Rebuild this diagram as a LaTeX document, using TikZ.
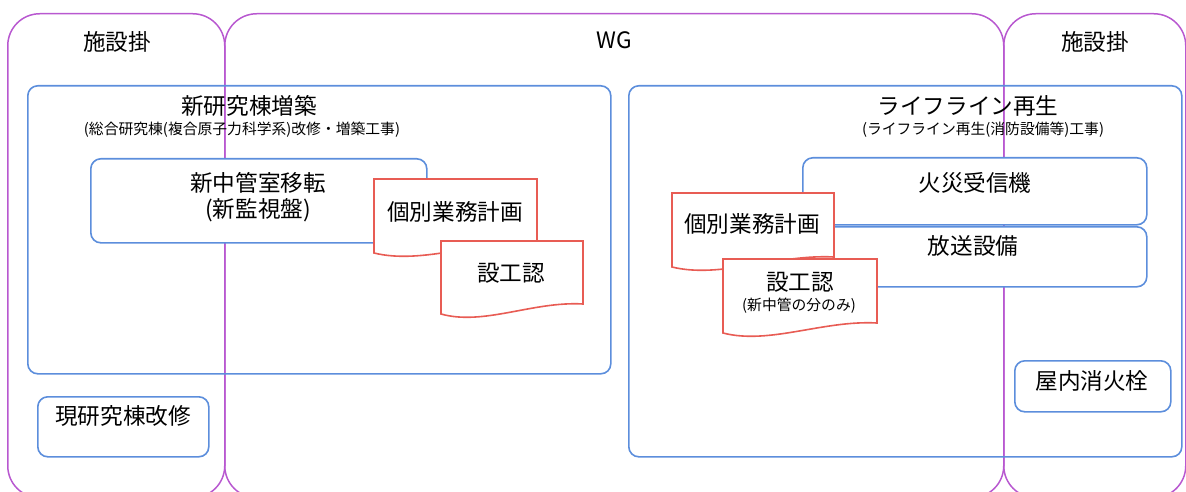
\documentclass[tikz,border=0pt]{standalone}
\usepackage{fontspec}
\setmainfont{Noto Sans CJK JP}
\definecolor{lanec}{RGB}{184,88,208}
\definecolor{boxc}{RGB}{92,142,220}
\definecolor{docc}{RGB}{232,92,84}
\newcommand\bigtxt{\fontsize{22.6}{26}\selectfont}
\newcommand\smalltxt{\fontsize{14.8}{17}\selectfont}
% document shape: x1, y1 (top), x2 (right), yL (left end of wave)
\newcommand\mydoc[5]{%
  \draw[docshape] (#1,#2) -- (#3,#2) -- (#3,{#4-10})
    .. controls ({#3-0.35*(#3-#1)},{#4-13}) and ({#1+0.3*(#3-#1)},{#4+12}) .. (#1,#4) -- cycle;
  \coordinate (#5) at ({(#1+#3)/2},{(#2+#4)/2});}
\tikzset{
  lane/.style={draw=lanec, line width=1.5pt, rounded corners=32pt, inner sep=0pt, anchor=north west},
  bbox/.style={draw=boxc, line width=1.6pt, rounded corners=10pt, inner sep=0pt, anchor=north west},
  wbox/.style={bbox, fill=white},
  docshape/.style={draw=docc, fill=white, line width=1.6pt},
  big/.style={font=\bigtxt, inner sep=0pt},
  small/.style={font=\smalltxt, inner sep=0pt},
}
\begin{document}
\begin{tikzpicture}[x=1pt,y=-1pt]
\useasboundingbox (0,0) rectangle (1186,492);
% lanes
\node[lane, minimum width=217pt, minimum height=484pt] (laneL) at (7,13) {};
\node[lane, minimum width=779pt, minimum height=484pt] (laneWG) at (224,13) {};
\node[lane, minimum width=182pt, minimum height=484pt] (laneR) at (1003,13) {};
\node[big] (tL) at (117,42) {施設掛};
\node[big] (tWG) at (614,40) {WG};
\node[big] (tR) at (1095,42) {施設掛};
% big blue boxes
\node[bbox, minimum width=583pt, minimum height=288pt] (newb) at (27,85) {};
\node[big] (newbT) at (249,106) {新研究棟増築};
\node[small] (newbS) at (242,130) {(総合研究棟(複合原子力科学系)改修・増築工事)};
\node[bbox, minimum width=553pt, minimum height=371pt] (life) at (628,85) {};
\node[big] (lifeT) at (968,106) {ライフライン再生};
\node[small] (lifeS) at (983,130) {(ライフライン再生(消防設備等)工事)};
% inner boxes
\node[wbox, minimum width=336pt, minimum height=84pt] (move) at (90,158) {};
\node[big] (moveT) at (258,183) {新中管室移転};
\node[big] (moveS) at (258,210) {(新監視盤)};
\node[wbox, minimum width=171pt, minimum height=60pt] (cur) at (37,396) {};
\node[big] (curT) at (123,416) {現研究棟改修};
\node[wbox, minimum width=344pt, minimum height=67pt] (fire) at (802,157) {};
\node[big] (fireT) at (975,183) {火災受信機};
\node[wbox, minimum width=344pt, minimum height=60pt] (bcast) at (802,226) {};
\node[big] (bcastT) at (973,246) {放送設備};
\node[wbox, minimum width=156pt, minimum height=51pt] (hyd) at (1014,360) {};
\node[big] (hydT) at (1092,381) {屋内消火栓};
% documents
\mydoc{374}{179}{537}{253}{plan1}
\node[big] (plan1T) at (455,212) {個別業務計画};
\mydoc{441}{241}{583}{314}{app1}
\node[big] (app1T) at (511,273) {設工認};
\mydoc{672}{193}{834}{267}{plan2}
\node[big] (plan2T) at (752,224) {個別業務計画};
\mydoc{723}{259}{877}{333}{app2}
\node[big] (app2T) at (800,282) {設工認};
\node[small] (app2S) at (799,306) {(新中管の分のみ)};
\end{tikzpicture}
\end{document}
